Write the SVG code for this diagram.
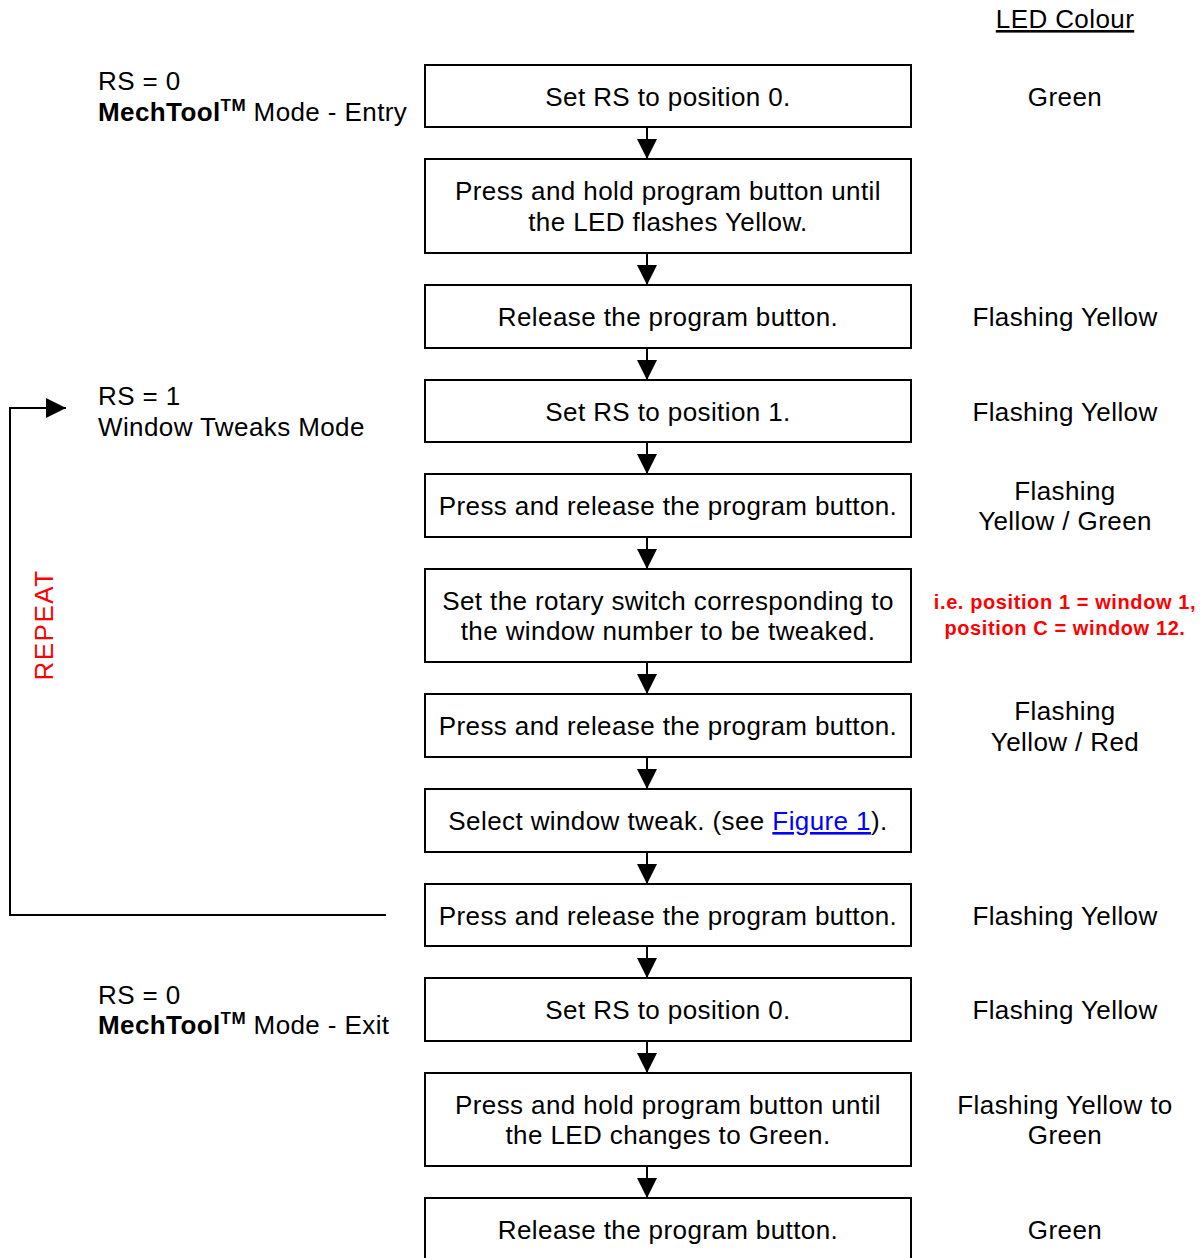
<svg xmlns="http://www.w3.org/2000/svg" width="1202" height="1258" viewBox="0 0 1202 1258">
<defs>
<style>
.box{fill:#fff;stroke:#000;stroke-width:2}
.t{font-family:"Liberation Sans",Arial,sans-serif;font-size:26px;letter-spacing:0.4px;fill:#000}
.c{text-anchor:middle}
.red{font-family:"Liberation Sans",Arial,sans-serif;font-size:20px;letter-spacing:0.6px;font-weight:bold;fill:#ff0000;text-anchor:middle}
.conn{fill:none;stroke:#000;stroke-width:2}
</style>
<marker id="ah" markerUnits="userSpaceOnUse" markerWidth="20" markerHeight="20" refX="20" refY="10" orient="auto" viewBox="0 0 20 20">
<path d="M0,0 L20,10 L0,20 z" fill="#000"/>
</marker>
</defs>
<rect width="1202" height="1258" fill="#fff"/>

<g id="connectors">
<line class="conn" x1="647" y1="128" x2="647" y2="159" marker-end="url(#ah)"/>
<line class="conn" x1="647" y1="254" x2="647" y2="285" marker-end="url(#ah)"/>
<line class="conn" x1="647" y1="349" x2="647" y2="380" marker-end="url(#ah)"/>
<line class="conn" x1="647" y1="443" x2="647" y2="474" marker-end="url(#ah)"/>
<line class="conn" x1="647" y1="538" x2="647" y2="569" marker-end="url(#ah)"/>
<line class="conn" x1="647" y1="663" x2="647" y2="694" marker-end="url(#ah)"/>
<line class="conn" x1="647" y1="758" x2="647" y2="789" marker-end="url(#ah)"/>
<line class="conn" x1="647" y1="853" x2="647" y2="884" marker-end="url(#ah)"/>
<line class="conn" x1="647" y1="947" x2="647" y2="978" marker-end="url(#ah)"/>
<line class="conn" x1="647" y1="1042" x2="647" y2="1073" marker-end="url(#ah)"/>
<line class="conn" x1="647" y1="1167" x2="647" y2="1198" marker-end="url(#ah)"/>
<polyline class="conn" points="386,915 10,915 10,408 66,408" marker-end="url(#ah)"/>
</g>

<g id="header"><text class="t c" x="1065" y="28" text-decoration="underline">LED Colour</text></g>

<g id="n1"><rect class="box" x="425" y="65" width="486" height="62"/><text class="t c" x="668" y="106">Set RS to position 0.</text></g>
<g id="n2"><rect class="box" x="425" y="159" width="486" height="94"/><text class="t c" x="668" y="200">Press and hold program button until</text><text class="t c" x="668" y="231">the LED flashes Yellow.</text></g>
<g id="n3"><rect class="box" x="425" y="285" width="486" height="63"/><text class="t c" x="668" y="326">Release the program button.</text></g>
<g id="n4"><rect class="box" x="425" y="380" width="486" height="62"/><text class="t c" x="668" y="421">Set RS to position 1.</text></g>
<g id="n5"><rect class="box" x="425" y="474" width="486" height="63"/><text class="t c" x="668" y="515">Press and release the program button.</text></g>
<g id="n6"><rect class="box" x="425" y="569" width="486" height="93"/><text class="t c" x="668" y="610">Set the rotary switch corresponding to</text><text class="t c" x="668" y="640">the window number to be tweaked.</text></g>
<g id="n7"><rect class="box" x="425" y="694" width="486" height="63"/><text class="t c" x="668" y="735">Press and release the program button.</text></g>
<g id="n8"><rect class="box" x="425" y="789" width="486" height="63"/><text class="t c" x="668" y="830">Select window tweak. (see <tspan fill="#0000ff" text-decoration="underline">Figure 1</tspan>).</text></g>
<g id="n9"><rect class="box" x="425" y="884" width="486" height="62"/><text class="t c" x="668" y="925">Press and release the program button.</text></g>
<g id="n10"><rect class="box" x="425" y="978" width="486" height="63"/><text class="t c" x="668" y="1019">Set RS to position 0.</text></g>
<g id="n11"><rect class="box" x="425" y="1073" width="486" height="93"/><text class="t c" x="668" y="1114">Press and hold program button until</text><text class="t c" x="668" y="1144">the LED changes to Green.</text></g>
<g id="n12"><rect class="box" x="425" y="1198" width="486" height="80"/><text class="t c" x="668" y="1239">Release the program button.</text></g>

<g id="left-labels">
<text class="t" x="98" y="90">RS = 0</text>
<text class="t" x="98" y="121"><tspan font-weight="bold">MechTool</tspan><tspan font-weight="bold" font-size="17" dy="-10">TM</tspan><tspan dy="10"> Mode - Entry</tspan></text>
<text class="t" x="98" y="405">RS = 1</text>
<text class="t" x="98" y="436">Window Tweaks Mode</text>
<text class="t" x="98" y="1004">RS = 0</text>
<text class="t" x="98" y="1034"><tspan font-weight="bold">MechTool</tspan><tspan font-weight="bold" font-size="17" dy="-10">TM</tspan><tspan dy="10"> Mode - Exit</tspan></text>
<text class="t c" x="0" y="0" transform="translate(53,625) rotate(-90)" style="fill:#ff0000;letter-spacing:1.5px">REPEAT</text>
</g>

<g id="led-column">
<text class="t c" x="1065" y="106">Green</text>
<text class="t c" x="1065" y="326">Flashing Yellow</text>
<text class="t c" x="1065" y="421">Flashing Yellow</text>
<text class="t c" x="1065" y="500">Flashing</text>
<text class="t c" x="1065" y="530">Yellow / Green</text>
<text class="red" x="1065" y="609">i.e. position 1 = window 1,</text>
<text class="red" x="1065" y="635">position C = window 12.</text>
<text class="t c" x="1065" y="720">Flashing</text>
<text class="t c" x="1065" y="751">Yellow / Red</text>
<text class="t c" x="1065" y="925">Flashing Yellow</text>
<text class="t c" x="1065" y="1019">Flashing Yellow</text>
<text class="t c" x="1065" y="1114">Flashing Yellow to</text>
<text class="t c" x="1065" y="1144">Green</text>
<text class="t c" x="1065" y="1239">Green</text>
</g>
</svg>
